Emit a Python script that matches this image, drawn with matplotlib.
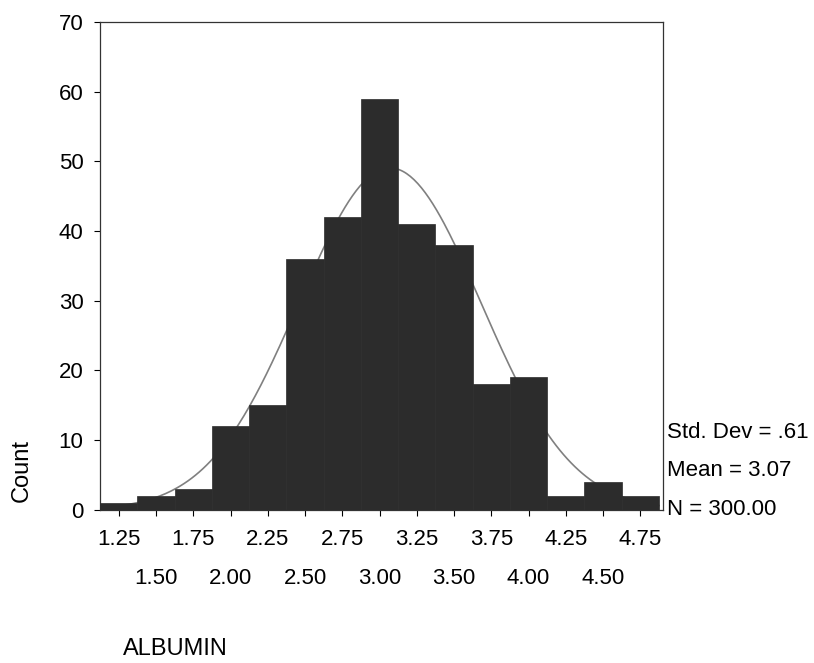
import numpy as np
import matplotlib.pyplot as plt

plt.rcParams['font.family'] = ['Liberation Sans', 'DejaVu Sans']

# bin centres and counts
bin_centers = [1.25, 1.50, 1.75, 2.00, 2.25, 2.50, 2.75, 3.00,
               3.25, 3.50, 3.75, 4.00, 4.25, 4.50, 4.75]
counts = [1, 2, 3, 12, 15, 36, 42, 59, 41, 38, 18, 19, 2, 4, 2]
bin_width = 0.25

# summary stats printed beside the chart (used for the normal curve)
std_dev = 0.61
mean = 3.07
n_total = 300

row1_ticks = bin_centers[0::2]
row2_ticks = bin_centers[1::2]

fig = plt.figure(figsize=(8.14, 6.63), dpi=100)
ax = fig.add_axes([0.123, 0.231, 0.692, 0.736])

ax.bar(bin_centers, counts, width=bin_width, color='#2c2c2c',
       edgecolor='#2c2c2c', linewidth=0.5, zorder=3)

# fitted normal curve, drawn behind the bars
xs = np.linspace(bin_centers[0] - bin_width / 2, bin_centers[-1] + bin_width / 2, 300)
ys = n_total * bin_width / (std_dev * np.sqrt(2 * np.pi)) * np.exp(-0.5 * ((xs - mean) / std_dev) ** 2)
ax.plot(xs, ys, color='#808080', linewidth=1.2, zorder=2)

ax.set_xlim(bin_centers[0] - bin_width / 2, bin_centers[-1] + bin_width / 2 + 0.03)
ax.set_ylim(0, 70)
ax.set_yticks(range(0, 71, 10))

ax.set_xticks(row1_ticks)
ax.set_xticklabels(['%.2f' % v for v in row1_ticks])
ax.set_xticks(row2_ticks, minor=True)
ax.set_xticklabels(['%.2f' % v for v in row2_ticks], minor=True)

ax.tick_params(axis='x', which='major', length=4, width=0.8, pad=10, labelsize=16)
ax.tick_params(axis='x', which='minor', length=4, width=0.8, pad=38, labelsize=16)
ax.tick_params(axis='y', length=4, width=0.8, pad=8, labelsize=16)

for s in ax.spines.values():
    s.set_linewidth(0.9)
    s.set_color('#333333')

fig.text(0.027, 0.29, 'Count', rotation=90, fontsize=17, ha='center', va='center')
fig.text(0.151, 0.004, 'ALBUMIN', fontsize=17, ha='left', va='bottom')

fig.text(0.819, 0.348, 'Std. Dev = .61', fontsize=16, ha='left', va='center')
fig.text(0.819, 0.290, 'Mean = 3.07', fontsize=16, ha='left', va='center')
fig.text(0.819, 0.231, 'N = 300.00', fontsize=16, ha='left', va='center')

fig.savefig('out.png', dpi=100, facecolor='white')
